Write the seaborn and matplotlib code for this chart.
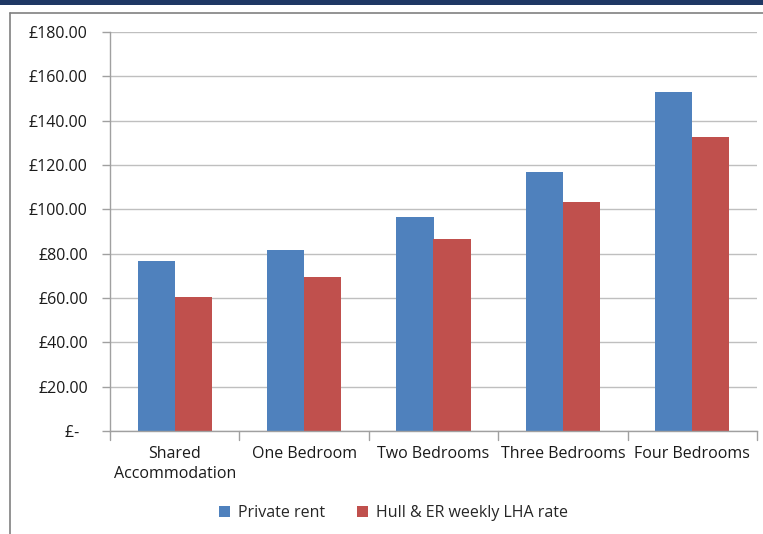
import pandas as pd
import matplotlib.pyplot as plt
import seaborn as sns
from matplotlib.lines import Line2D
from matplotlib.patches import Rectangle

# data
categories = ["Shared\nAccommodation", "One Bedroom", "Two Bedrooms", "Three Bedrooms", "Four Bedrooms"]
private_rent = [76.5, 81.5, 96.5, 117.0, 153.0]
lha_rate = [60.5, 69.5, 86.5, 103.5, 132.5]
series = ["Private rent", "Hull & ER weekly LHA rate"]
yticks = [0, 20, 40, 60, 80, 100, 120, 140, 160, 180]

df = pd.DataFrame({
    "category": categories * 2,
    "value": private_rent + lha_rate,
    "series": [series[0]] * len(categories) + [series[1]] * len(categories),
})

sns.set_style("white")
plt.rcParams["font.family"] = ["Open Sans", "DejaVu Sans"]

fig = plt.figure(figsize=(7.63, 5.34), dpi=100)
ax = fig.add_axes([110 / 763, 103 / 534, 647 / 763, 399 / 534])

sns.barplot(data=df, x="category", y="value", hue="series",
            palette=["#4F81BD", "#C0504D"], width=0.572, gap=0,
            saturation=1, linewidth=0, ax=ax, legend=True)

ax.set_ylim(0, 180)
ax.set_xlim(-0.5, len(categories) - 0.5)
ax.set_yticks(yticks)
ax.set_yticklabels(["£-  " if v == 0 else f"£{v:.2f}" for v in yticks], fontsize=11.5, color="#1a1a1a")
ax.set_xlabel("")
ax.set_ylabel("")
ax.tick_params(axis="x", length=0, labelsize=11.5, labelcolor="#1a1a1a", pad=11)
for lbl in ax.get_xticklabels():
    lbl.set_linespacing(1.35)
ax.tick_params(axis="y", length=6, color="#A0A0A0", width=1, pad=10, left=True)
ax.yaxis.grid(True, color="#BFBFBF", linewidth=1)
ax.set_axisbelow(True)

# category boundary ticks on the x axis
for b in range(len(categories) + 1):
    ax.plot([b - 0.5, b - 0.5], [0, -4], color="#A0A0A0", lw=1, clip_on=False)

for s in ["top", "right"]:
    ax.spines[s].set_visible(False)
for s in ["left", "bottom"]:
    ax.spines[s].set_color("#A0A0A0")
    ax.spines[s].set_linewidth(1)

handles, labels = ax.get_legend_handles_labels()
ax.legend(handles, labels, loc="center", bbox_to_anchor=(0.5 - 40 / 647, -0.205),
          ncol=2, frameon=False, fontsize=11.5, handlelength=0.7, handleheight=0.7,
          columnspacing=2.0, handletextpad=0.5)

# frame around the chart and header band
fig.add_artist(Rectangle((0, 1 - 5 / 534), 1, 5 / 534, transform=fig.transFigure,
                         color="#1F3864", lw=0))
fig.add_artist(Line2D([10 / 763, 10 / 763], [0, 1 - 13 / 534], transform=fig.transFigure,
                      color="#808080", lw=1.2))
fig.add_artist(Line2D([10 / 763, 1], [1 - 13 / 534, 1 - 13 / 534], transform=fig.transFigure,
                      color="#808080", lw=1.2))

fig.savefig("out.png", dpi=100)
